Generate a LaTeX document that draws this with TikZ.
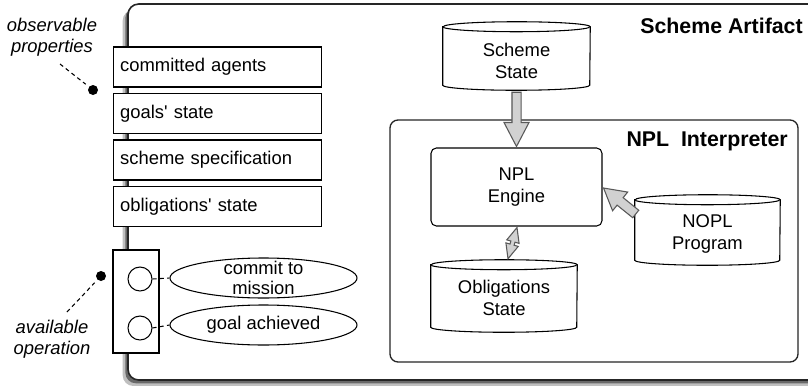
\documentclass[tikz,border=0pt]{standalone}
\usepackage{fontspec}
\setmainfont{Liberation Sans}
\usetikzlibrary{shapes.geometric,shadows,calc}
\newcommand{\cylbody}[3]{%
  \draw[cylline] (#1.north west) -- (#1.south west)
    arc[start angle=180,end angle=360,x radius=#2,y radius=#3]
    -- (#1.north east)
    arc[start angle=0,end angle=180,x radius=#2,y radius=#3] -- cycle;
  \draw[cylline,fill=none] (#1.north west) arc[start angle=180,end angle=360,x radius=#2,y radius=#3];}
\newcommand{\fatarrow}[5]{%
  \coordinate (fa-h) at ($(#2)!#5!(#1)$);
  \draw[fatarr] ($(#1)!#3!90:(#2)$) -- ($(fa-h)!#3!90:(#2)$) -- ($(fa-h)!#4!90:(#2)$) -- (#2)
    -- ($(fa-h)!#4!-90:(#2)$) -- ($(fa-h)!#3!-90:(#2)$) -- ($(#1)!#3!-90:(#2)$) -- cycle;}
\newcommand{\fatdouble}[5]{%
  \coordinate (fd-a) at ($(#1)!#5!(#2)$);
  \coordinate (fd-b) at ($(#2)!#5!(#1)$);
  \draw[fatarr] (#1) -- ($(fd-a)!#4!90:(#2)$) -- ($(fd-a)!#3!90:(#2)$) -- ($(fd-b)!#3!90:(#2)$)
    -- ($(fd-b)!#4!90:(#2)$) -- (#2) -- ($(fd-b)!#4!-90:(#2)$) -- ($(fd-b)!#3!-90:(#2)$)
    -- ($(fd-a)!#3!-90:(#2)$) -- ($(fd-a)!#4!-90:(#2)$) -- cycle;}
\begin{document}
\begin{tikzpicture}[x=0.75pt,y=-0.75pt,
  every node/.style={font=\fontsize{13.8}{16.5}\selectfont},
  mainbox/.style={draw=black!85, line width=1.2pt, fill=white, rounded corners=8pt, inner sep=0pt,
    drop shadow={shadow xshift=-4pt, shadow yshift=-4.5pt, opacity=0.25, fill=black},
    drop shadow={shadow xshift=-2pt, shadow yshift=-2.5pt, opacity=0.45, fill=black}},
  prop/.style={draw, line width=0.8pt, fill=white, minimum height=30pt, text width=146pt,
    inner xsep=5pt, inner ysep=0pt, align=left, anchor=west},
  opbox/.style={draw, line width=0.8pt, fill=white, inner sep=0pt},
  opcirc/.style={draw, line width=0.8pt, fill=white, circle, inner sep=0pt, minimum size=18pt},
  opell/.style={draw, line width=0.8pt, fill=white, ellipse, inner sep=0pt,
    minimum width=140.25pt, minimum height=30pt},
  elltext/.style={align=center, font=\fontsize{13.8}{15}\selectfont},
  italabel/.style={align=center, font=\itshape\fontsize{13.8}{16}\selectfont},
  dashline/.style={line width=0.8pt, dash pattern=on 3pt off 2.5pt},
  blackdot/.style={circle, fill=black, inner sep=0pt, minimum size=7.5pt},
  interp/.style={draw=black!85, line width=1pt, fill=white, rounded corners=6pt, inner sep=0pt},
  engine/.style={draw, line width=0.8pt, fill=white, rounded corners=4pt, inner sep=0pt, align=center},
  cylbox/.style={inner sep=0pt},
  cylline/.style={draw=black, line width=0.8pt, fill=white},
  cyltext/.style={align=center},
  fatarr/.style={draw=black!65, line width=0.8pt, fill=black!18, line join=miter},
  titletext/.style={font=\bfseries\fontsize{16}{19}\selectfont, anchor=east, inner sep=0pt}
]
\useasboundingbox (0,0) rectangle (808,386);
\clip (0,0) rectangle (808,386);

% main artifact box
\node[mainbox, minimum width=526.5pt, minimum height=282pt] (main) at (479,192) {};
\node[titletext] (title) at (803,26) {Scheme Artifact};

% observable properties
\node[prop] (p1) at (113,67) {committed agents};
\node[prop] (p2) at (113,113.5) {goals\textquotesingle{} state};
\node[prop] (p3) at (113,160) {scheme specification};
\node[prop] (p4) at (113,206.5) {obligations\textquotesingle{} state};

% operations
\node[opbox, minimum width=34.5pt, minimum height=77.25pt] (ops) at (136,301.5) {};
\node[opcirc] (c1) at (140,279) {};
\node[opcirc] (c2) at (140,328) {};
\node[opell, label={[elltext]center:commit to\\mission}] (e1) at (263.5,278) {};
\node[opell, label={[elltext]center:goal achieved}] (e2) at (263.5,325) {};
\draw[dashline] (c1.east) -- (e1.west);
\draw[dashline] (c2.east) -- (e2.west);

% side labels
\node[italabel] (obs) at (52,37) {observable\\properties};
\node[blackdot] (d1) at (93,90) {};
\coordinate (d1s) at (60,64);
\draw[dashline, shorten >=3pt] (d1s) -- (d1);
\node[italabel] (avl) at (52,339) {available\\operation};
\node[blackdot] (d2) at (101,276) {};
\coordinate (d2s) at (67,312);
\draw[dashline, shorten >=3pt] (d2s) -- (d2);

% NPL interpreter
\node[interp, minimum width=306pt, minimum height=181.5pt] (npl) at (594,241) {};
\node[titletext] (npltitle) at (788,141) {NPL\ \ Interpreter};
\node[engine, minimum width=128.25pt, minimum height=58.5pt] (eng) at (516.5,187) {NPL\\Engine};

% cylinders
\node[cylbox, minimum width=110.25pt, minimum height=43.5pt] (ss) at (516.5,56) {};
\cylbody{ss}{55.125pt}{3.75pt}
\node[cyltext] (sst) at (516.5,61) {Scheme\\State};

\node[cylbox, minimum width=109.5pt, minimum height=46.5pt] (ob) at (504,296) {};
\cylbody{ob}{54.75pt}{3.75pt}
\node[cyltext] (obt) at (504,298) {Obligations\\State};

\node[cylbox, minimum width=108.75pt, minimum height=45pt] (nopl) at (707.5,230) {};
\cylbody{nopl}{54.375pt}{3.75pt}
\node[cyltext] (noplt) at (707.5,234) {NOPL\\Program};

% arrows
\coordinate (a1s) at ($(ss.south)+(0,7)$);
\coordinate (a1e) at ($(eng.north)+(0,-1)$);
\fatarrow{a1s}{a1e}{3.4pt}{9.4pt}{18pt}

\coordinate (a2s) at ($(nopl.west)+(1,-16)$);
\coordinate (a2e) at ($(eng.east)+(1,1)$);
\fatarrow{a2s}{a2e}{3.6pt}{9pt}{16pt}

\coordinate (a3s) at ($(ob.north)+(4,-6)$);
\coordinate (a3e) at ($(eng.south)+(0.5,1)$);
\fatdouble{a3s}{a3e}{1.6pt}{4.8pt}{11pt}
\end{tikzpicture}
\end{document}
